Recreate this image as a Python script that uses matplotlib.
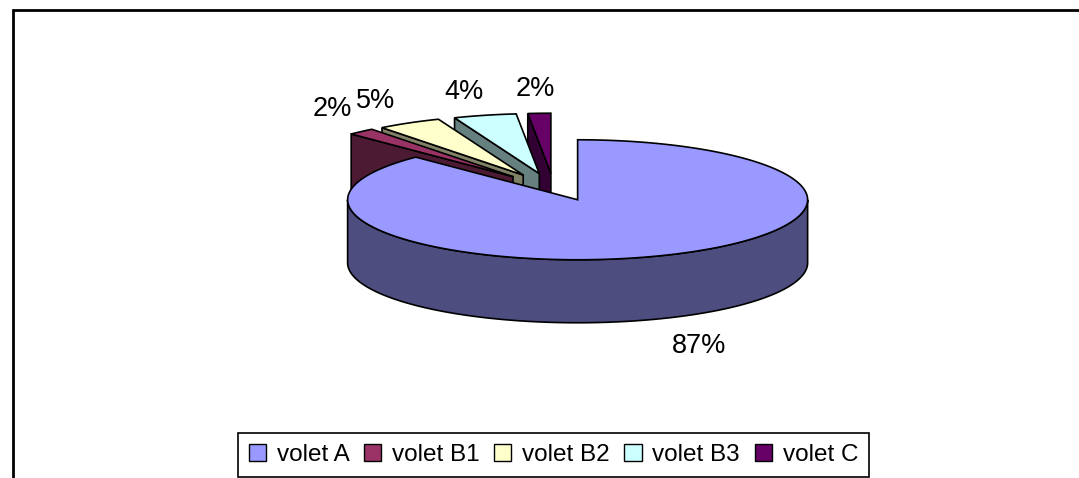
import numpy as np
import matplotlib
matplotlib.use('Agg')
import matplotlib.pyplot as plt
from matplotlib.patches import Polygon, Rectangle

labels = ['volet A', 'volet B1', 'volet B2', 'volet B3', 'volet C']
values = [87.49, 1.9, 4.51, 4.4, 1.6]
colors = ['#9999FF', '#993366', '#FFFFCC', '#CCFFFF', '#660066']

plt.rcParams['font.family'] = ['Liberation Sans', 'DejaVu Sans']

# pie shape, in pixels
cx, cy = 554, 187
rx, ry = 230, 60
depth = 63
explode_x, explode_y = 0.27, 0.23


def darker(c):
    return tuple(0.5 * x for x in matplotlib.colors.to_rgb(c))


def arc(center, a0, a1):
    # angles are clockwise from 12 o'clock
    t = np.radians(np.linspace(a0, a1, 200))
    return np.column_stack([center[0] + rx * np.sin(t), center[1] - ry * np.cos(t)])


fig = plt.figure(figsize=(10.79, 4.78), dpi=100)
ax = fig.add_axes([0, 0, 1, 1])
ax.set_xlim(0, 1079)
ax.set_ylim(478, 0)
ax.axis('off')

# frame of the chart, only top and left are in the picture
ax.plot([13, 13, 1079], [478, 9.5, 9.5], color='black', lw=2, solid_joinstyle='miter')

angles = np.cumsum([0] + values) / sum(values) * 360
slices = []
for i in range(len(values)):
    a0, a1 = angles[i], angles[i + 1]
    mid = np.radians((a0 + a1) / 2)
    center = (cx + explode_x * rx * np.sin(mid), cy - explode_y * ry * np.cos(mid))
    slices.append((a0, a1, center))

# small slices back to front, big one last
for i in [4, 3, 2, 1]:
    a0, a1, center = slices[i]
    outer = arc(center, a0, a1)
    face = [outer[0], center, (center[0], center[1] + depth), (outer[0][0], outer[0][1] + depth)]
    ax.add_patch(Polygon(face, closed=True, fc=darker(colors[i]), ec='black', lw=1.2))
    ax.add_patch(Polygon(np.vstack([[center], outer]), closed=True, fc=colors[i], ec='black', lw=1.2))

a0, a1, center = slices[0]
front = arc(center, 90, 270)
wall = np.vstack([front, front[::-1] + [0, depth]])
ax.add_patch(Polygon(wall, closed=True, fc=darker(colors[0]), ec='black', lw=1.2))
ax.add_patch(Polygon(np.vstack([[center], arc(center, a0, a1)]), closed=True, fc=colors[0], ec='black', lw=1.2))

# percent labels
pct_x = [699, 332, 376, 464, 535]
pct_y = [346, 109, 101, 92, 89]
for v, x, y in zip(values, pct_x, pct_y):
    ax.text(x, y, f'{v:.0f}%', fontsize=19.5, ha='center', va='center', color='black')

# legend
handles = [Rectangle((0, 0), 1, 1, fc=c, ec='black', lw=1) for c in colors]
leg = ax.legend(handles, labels, ncol=5, loc='center', bbox_to_anchor=(553.5 / 1079, 1 - 455 / 478),
                fontsize=17.5, frameon=True, fancybox=False, edgecolor='black', framealpha=1,
                handlelength=0.7, handleheight=0.7, handletextpad=0.45, columnspacing=0.6,
                borderpad=0.45, borderaxespad=0)
leg.get_frame().set_linewidth(1.2)

fig.savefig('out.png', dpi=100)
